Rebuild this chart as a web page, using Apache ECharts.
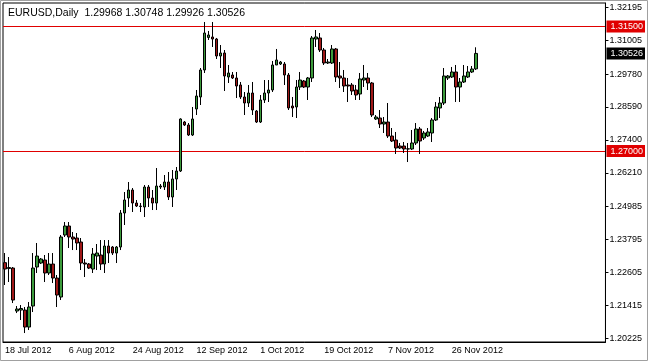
<!DOCTYPE html>
<html><head><meta charset="utf-8">
<script src="https://cdn.jsdelivr.net/npm/echarts@6/dist/echarts.min.js"></script>
<style>html,body{margin:0;padding:0;background:#fff}#c{width:648px;height:361px}</style>
</head><body><div id="c"></div>
<script>
const symbol = 'EURUSD';
const period = 'Daily';
const categories = [
'18 Jul 2012','19 Jul 2012','20 Jul 2012','22 Jul 2012','23 Jul 2012','24 Jul 2012','25 Jul 2012','26 Jul 2012','27 Jul 2012','29 Jul 2012','30 Jul 2012','31 Jul 2012',
'1 Aug 2012','2 Aug 2012','3 Aug 2012','5 Aug 2012','6 Aug 2012','7 Aug 2012','8 Aug 2012','9 Aug 2012','10 Aug 2012','12 Aug 2012','13 Aug 2012','14 Aug 2012','15 Aug 2012','16 Aug 2012','17 Aug 2012','19 Aug 2012','20 Aug 2012','21 Aug 2012','22 Aug 2012','23 Aug 2012','24 Aug 2012','26 Aug 2012','27 Aug 2012','28 Aug 2012','29 Aug 2012','30 Aug 2012','31 Aug 2012',
'2 Sep 2012','3 Sep 2012','4 Sep 2012','5 Sep 2012','6 Sep 2012','7 Sep 2012','9 Sep 2012','10 Sep 2012','11 Sep 2012','12 Sep 2012','13 Sep 2012','14 Sep 2012','16 Sep 2012','17 Sep 2012','18 Sep 2012','19 Sep 2012','20 Sep 2012','21 Sep 2012','23 Sep 2012','24 Sep 2012','25 Sep 2012','26 Sep 2012','27 Sep 2012','28 Sep 2012','30 Sep 2012',
'1 Oct 2012','2 Oct 2012','3 Oct 2012','4 Oct 2012','5 Oct 2012','7 Oct 2012','8 Oct 2012','9 Oct 2012','10 Oct 2012','11 Oct 2012','12 Oct 2012','14 Oct 2012','15 Oct 2012','16 Oct 2012','17 Oct 2012','18 Oct 2012','19 Oct 2012','21 Oct 2012','22 Oct 2012','23 Oct 2012','24 Oct 2012','25 Oct 2012','26 Oct 2012','28 Oct 2012','29 Oct 2012','30 Oct 2012','31 Oct 2012',
'1 Nov 2012','2 Nov 2012','4 Nov 2012','5 Nov 2012','6 Nov 2012','7 Nov 2012','8 Nov 2012','9 Nov 2012','11 Nov 2012','12 Nov 2012','13 Nov 2012','14 Nov 2012','15 Nov 2012','16 Nov 2012','18 Nov 2012','19 Nov 2012','20 Nov 2012','21 Nov 2012','22 Nov 2012','23 Nov 2012','25 Nov 2012','26 Nov 2012','27 Nov 2012','28 Nov 2012','29 Nov 2012','30 Nov 2012',
'2 Dec 2012','3 Dec 2012'
];
const opens = [
1.22960,1.22747,1.22765,1.21210,1.21246,1.21246,1.20631,1.21391,1.22802,1.22946,
1.23055,1.22585,1.22910,1.22404,1.21717,1.23959,1.24285,1.23887,1.23851,1.23706,
1.22946,1.22910,1.22729,1.23199,1.23236,1.22910,1.23561,1.23525,1.23308,1.23525,
1.24755,1.25297,1.25587,1.25116,1.25008,1.24972,1.25695,1.25297,1.25116,1.25695,
1.25695,1.25876,1.25334,1.25985,1.26274,1.28046,1.27938,1.27576,1.28516,1.28951,
1.29927,1.31103,1.31121,1.31048,1.30433,1.30542,1.29674,1.29746,1.29638,1.29385,
1.28951,1.28733,1.29095,1.28444,1.28046,1.28842,1.29095,1.29204,1.30108,1.30144,
1.30144,1.29746,1.28625,1.28589,1.29312,1.29529,1.29312,1.29638,1.31048,1.31085,
1.30650,1.30180,1.30180,1.30687,1.29710,1.29638,1.29385,1.29385,1.29204,1.29059,
1.29565,1.29638,1.29457,1.28155,1.28191,1.27974,1.28046,1.27540,1.27395,1.27178,
1.27178,1.27070,1.27070,1.27287,1.27793,1.27468,1.27540,1.27648,1.28119,1.28553,
1.28733,1.29638,1.29674,1.29855,1.29312,1.29493,1.29674,1.29855,1.29968
];
const highs = [
1.23308,1.23163,1.22802,1.21391,1.21427,1.21355,1.21536,1.23308,1.23670,1.23127,
1.23236,1.23308,1.23308,1.22512,1.23959,1.24429,1.24429,1.24068,1.24031,1.23851,
1.23091,1.22946,1.23489,1.23634,1.23778,1.23778,1.23778,1.23561,1.23561,1.24863,
1.25514,1.25876,1.25659,1.25225,1.25116,1.25768,1.25768,1.25587,1.26382,1.25804,
1.26129,1.26238,1.26310,1.26419,1.28180,1.28082,1.28010,1.28589,1.29204,1.29999,
1.31663,1.31338,1.31663,1.31085,1.30831,1.30650,1.30108,1.29855,1.29855,1.29493,
1.29131,1.29385,1.29493,1.28480,1.29023,1.29565,1.29565,1.30253,1.30687,1.30253,
1.30216,1.29819,1.28951,1.29565,1.29855,1.29565,1.29674,1.31157,1.31374,1.31265,
1.30723,1.30325,1.30831,1.30723,1.30216,1.29927,1.29638,1.29457,1.29385,1.29819,
1.30108,1.29819,1.29493,1.28299,1.28480,1.28227,1.28733,1.27829,1.27685,1.27287,
1.27323,1.27287,1.27757,1.28010,1.27865,1.27721,1.27829,1.28191,1.28770,1.28951,
1.29999,1.29746,1.30036,1.30108,1.29638,1.30108,1.30072,1.30072,1.30748
];
const lows = [
1.22151,1.22259,1.21499,1.21137,1.20885,1.20414,1.20523,1.21174,1.22585,1.22910,
1.22259,1.22512,1.22223,1.21355,1.21608,1.23887,1.23489,1.23416,1.23416,1.22693,
1.22440,1.22729,1.22585,1.22693,1.22693,1.22585,1.22946,1.23236,1.22946,1.23416,
1.24321,1.24972,1.24791,1.24972,1.24791,1.24610,1.24972,1.24863,1.24863,1.25623,
1.25587,1.25225,1.24972,1.25587,1.26238,1.27902,1.27540,1.27540,1.28299,1.28661,
1.29819,1.31012,1.30759,1.30325,1.29999,1.29168,1.29457,1.29602,1.28914,1.28878,
1.28299,1.28589,1.28299,1.28010,1.28010,1.28733,1.28770,1.29131,1.30108,1.30108,
1.29385,1.28480,1.28227,1.28191,1.29204,1.29276,1.28842,1.29493,1.30759,1.30578,
1.30108,1.30144,1.30144,1.29493,1.29276,1.29131,1.28770,1.29023,1.28842,1.28842,
1.29312,1.29204,1.28227,1.28119,1.27829,1.27648,1.27468,1.27323,1.26889,1.27070,
1.26925,1.26599,1.27033,1.27214,1.26889,1.27395,1.27504,1.27323,1.28082,1.28191,
1.28661,1.29565,1.29638,1.28770,1.28770,1.29457,1.29638,1.29819,1.29926
];
const closes = [
1.22729,1.22784,1.21608,1.21282,1.21301,1.20631,1.21355,1.22765,1.23199,1.23091,
1.22585,1.22910,1.22404,1.21789,1.23887,1.24285,1.23887,1.23814,1.23670,1.22946,
1.22910,1.22765,1.23272,1.23308,1.22910,1.23561,1.23308,1.23308,1.23525,1.24755,
1.25225,1.25587,1.25116,1.25008,1.24990,1.25695,1.25297,1.25116,1.25731,1.25731,
1.25876,1.25334,1.25985,1.26274,1.28155,1.27938,1.27576,1.28155,1.28987,1.29927,
1.31265,1.31193,1.31048,1.30433,1.30542,1.29710,1.29819,1.29638,1.29348,1.28951,
1.28733,1.29095,1.28480,1.28046,1.28842,1.29095,1.29204,1.30108,1.30289,1.30216,
1.29746,1.28553,1.28553,1.29312,1.29565,1.29312,1.29638,1.31085,1.31121,1.30650,
1.30180,1.30216,1.30687,1.29674,1.29638,1.29348,1.29348,1.29168,1.29023,1.29602,
1.29638,1.29457,1.28299,1.28227,1.27974,1.28046,1.27540,1.27359,1.27106,1.27106,
1.27070,1.27075,1.27287,1.27793,1.27359,1.27648,1.27685,1.28119,1.28589,1.28733,
1.29710,1.29710,1.29855,1.29312,1.29493,1.29710,1.29855,1.29963,1.30526
];
const priceTicks = [1.32195, 1.31005, 1.29780, 1.28590, 1.27400, 1.26210, 1.24985, 1.23795, 1.22605, 1.21415, 1.20225];
const levels = [1.31500, 1.27000];

const FONT = "'Liberation Sans', Arial, sans-serif";
const LEVEL_COLOR = '#e00000';
const labelEvery = 16;
const padCount = 32;
const yMin = 1.2009, yMax = 1.3235;

const n = categories.length;
const last = n - 1;
const lastPrice = closes[last];
const axisCats = categories.concat(new Array(padCount).fill(''));
const ohlc = opens.map((o, i) => [o, closes[i], lows[i], highs[i]]);
const header = symbol + ',' + period + '  ' +
  [opens[last], highs[last], lows[last], closes[last]].map(v => v.toFixed(5)).join(' ');
const showIdx = i => i % labelEvery === 0 && i < n;
const tagValues = levels.concat([lastPrice]);

const chart = echarts.init(document.getElementById('c'), null, { renderer: 'canvas' });
chart.setOption({
  animation: false,
  backgroundColor: '#fff',
  title: {
    text: header, left: 8, top: 8, padding: 0,
    textStyle: { fontFamily: FONT, fontSize: 10.5, fontWeight: 'normal', color: '#000' }
  },
  grid: { left: 3, right: 41, top: 3, bottom: 19, show: true, borderColor: '#000', borderWidth: 1, backgroundColor: '#fff' },
  xAxis: {
    type: 'category', data: axisCats, boundaryGap: true,
    axisLine: { onZero: false, lineStyle: { color: '#000' } },
    axisTick: { alignWithLabel: true, interval: i => showIdx(i), length: 4, lineStyle: { color: '#000' } },
    axisLabel: { interval: i => showIdx(i), align: 'left', margin: 4, fontFamily: FONT, fontSize: 9, color: '#000' },
    splitLine: { show: false }
  },
  yAxis: [
    {
      type: 'value', position: 'right', min: yMin, max: yMax,
      axisLine: { show: true, lineStyle: { color: '#000' } },
      axisTick: { show: true, customValues: priceTicks, length: 3, lineStyle: { color: '#000' } },
      axisLabel: { customValues: priceTicks, formatter: v => v.toFixed(5), margin: 4, fontFamily: FONT, fontSize: 9, color: '#000' },
      splitLine: { show: false }
    },
    {
      type: 'value', position: 'right', min: yMin, max: yMax,
      axisLine: { show: false },
      axisTick: { show: false, customValues: levels },
      splitLine: { show: true, lineStyle: { color: LEVEL_COLOR, width: 1, type: 'solid' } },
      axisLabel: {
        customValues: tagValues, margin: 1, fontFamily: FONT, fontSize: 9,
        formatter: v => (Math.abs(v - lastPrice) < 1e-9 ? '{b|' : '{r|') + v.toFixed(5) + '}',
        rich: {
          r: { backgroundColor: LEVEL_COLOR, color: '#fff', padding: [2, 2, 1, 4], fontFamily: FONT, fontSize: 9 },
          b: { backgroundColor: '#000', color: '#fff', padding: [2, 2, 1, 4], fontFamily: FONT, fontSize: 9 }
        }
      }
    }
  ],
  series: [
    {
      type: 'candlestick',
      data: ohlc,
      barWidth: 3,
      itemStyle: { color: '#3c9b3c', color0: '#a01818', borderColor: '#000', borderColor0: '#000', borderWidth: 1 }
    }
  ],
  graphic: [{ type: 'rect', silent: true, shape: { x: 0.5, y: 0.5, width: 647, height: 360 }, style: { fill: 'none', stroke: '#a0a0a0', lineWidth: 1 } }]
});
</script></body></html>
